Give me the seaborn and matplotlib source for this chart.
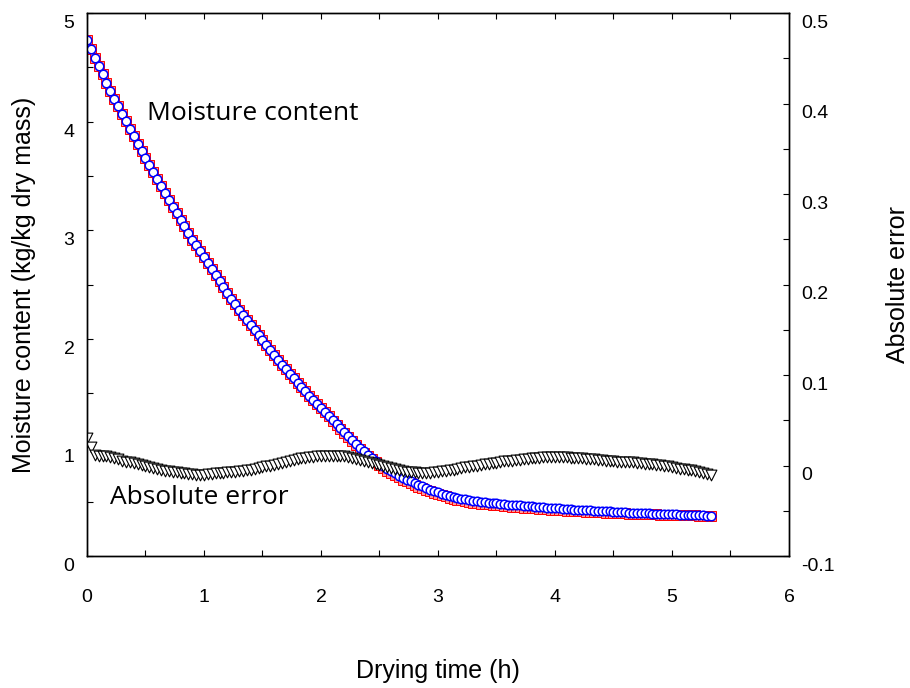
import numpy as np
import pandas as pd
import matplotlib
matplotlib.use('Agg')
import matplotlib.pyplot as plt
import matplotlib.transforms as mtransforms
from matplotlib.ticker import MultipleLocator
import seaborn as sns

# drying time in minutes (one reading every 2 min)
drying_time_min = [
    0, 2, 4, 6, 8, 10, 12, 14, 16, 18, 20, 22, 24, 26, 28, 30, 32, 34, 36, 38,
    40, 42, 44, 46, 48, 50, 52, 54, 56, 58, 60, 62, 64, 66, 68, 70, 72, 74, 76, 78,
    80, 82, 84, 86, 88, 90, 92, 94, 96, 98, 100, 102, 104, 106, 108, 110, 112, 114, 116, 118,
    120, 122, 124, 126, 128, 130, 132, 134, 136, 138, 140, 142, 144, 146, 148, 150, 152, 154, 156, 158,
    160, 162, 164, 166, 168, 170, 172, 174, 176, 178, 180, 182, 184, 186, 188, 190, 192, 194, 196, 198,
    200, 202, 204, 206, 208, 210, 212, 214, 216, 218, 220, 222, 224, 226, 228, 230, 232, 234, 236, 238,
    240, 242, 244, 246, 248, 250, 252, 254, 256, 258, 260, 262, 264, 266, 268, 270, 272, 274, 276, 278,
    280, 282, 284, 286, 288, 290, 292, 294, 296, 298, 300, 302, 304, 306, 308, 310, 312, 314, 316, 318,
    320,
]

# experimental moisture content (kg/kg dry mass), blue circles
moisture_exp = [
    4.75, 4.67, 4.59, 4.51, 4.435, 4.36, 4.285, 4.213, 4.142, 4.07,
    4.002, 3.933, 3.865, 3.798, 3.732, 3.665, 3.60, 3.535, 3.47, 3.407,
    3.343, 3.28, 3.218, 3.157, 3.095, 3.035, 2.975, 2.915, 2.862, 2.808,
    2.755, 2.698, 2.642, 2.585, 2.53, 2.475, 2.42, 2.37, 2.32, 2.27,
    2.222, 2.173, 2.125, 2.078, 2.032, 1.985, 1.94, 1.895, 1.85, 1.807,
    1.763, 1.72, 1.678, 1.637, 1.595, 1.555, 1.515, 1.475, 1.437, 1.398,
    1.36, 1.323, 1.287, 1.25, 1.213, 1.177, 1.14, 1.103, 1.067, 1.03,
    0.997, 0.963, 0.93, 0.903, 0.877, 0.85, 0.827, 0.803, 0.78, 0.76,
    0.74, 0.72, 0.703, 0.687, 0.67, 0.655, 0.64, 0.625, 0.612, 0.598,
    0.585, 0.574, 0.564, 0.553, 0.544, 0.536, 0.527, 0.521, 0.514, 0.508,
    0.504, 0.499, 0.495, 0.491, 0.488, 0.484, 0.481, 0.477, 0.474, 0.471,
    0.468, 0.465, 0.462, 0.46, 0.457, 0.454, 0.452, 0.449, 0.446, 0.443,
    0.44, 0.438, 0.435, 0.433, 0.431, 0.428, 0.426, 0.424, 0.422, 0.42,
    0.418, 0.416, 0.414, 0.412, 0.411, 0.409, 0.407, 0.404, 0.402, 0.40,
    0.399, 0.397, 0.395, 0.394, 0.392, 0.391, 0.389, 0.388, 0.387, 0.385,
    0.384, 0.383, 0.381, 0.38, 0.379, 0.377, 0.376, 0.375, 0.373, 0.372,
    0.371,
]

# predicted moisture content, red squares
moisture_model = [
    4.75, 4.67, 4.59, 4.51, 4.435, 4.36, 4.285, 4.213, 4.142, 4.07,
    4.002, 3.933, 3.865, 3.798, 3.732, 3.665, 3.60, 3.535, 3.47, 3.407,
    3.343, 3.28, 3.218, 3.157, 3.095, 3.035, 2.975, 2.915, 2.862, 2.808,
    2.755, 2.698, 2.642, 2.585, 2.53, 2.475, 2.42, 2.37, 2.32, 2.27,
    2.222, 2.173, 2.125, 2.078, 2.032, 1.985, 1.94, 1.895, 1.85, 1.807,
    1.763, 1.72, 1.678, 1.637, 1.595, 1.555, 1.515, 1.475, 1.437, 1.398,
    1.36, 1.323, 1.287, 1.247, 1.209, 1.172, 1.134, 1.096, 1.059, 1.021,
    0.987, 0.952, 0.918, 0.89, 0.863, 0.835, 0.811, 0.787, 0.764, 0.744,
    0.724, 0.704, 0.687, 0.671, 0.654, 0.639, 0.624, 0.609, 0.596, 0.582,
    0.569, 0.558, 0.548, 0.537, 0.528, 0.52, 0.511, 0.505, 0.498, 0.492,
    0.488, 0.483, 0.479, 0.475, 0.472, 0.468, 0.465, 0.461, 0.458, 0.455,
    0.452, 0.449, 0.446, 0.444, 0.441, 0.438, 0.436, 0.433, 0.43, 0.428,
    0.425, 0.423, 0.42, 0.418, 0.416, 0.414, 0.412, 0.41, 0.408, 0.406,
    0.405, 0.403, 0.401, 0.40, 0.399, 0.397, 0.396, 0.394, 0.392, 0.391,
    0.39, 0.388, 0.387, 0.386, 0.385, 0.384, 0.383, 0.382, 0.381, 0.38,
    0.379, 0.378, 0.377, 0.376, 0.375, 0.374, 0.373, 0.372, 0.371, 0.37,
    0.369,
]

# absolute error, black triangles (right axis)
abs_error = [
    0.030, 0.020, 0.012, 0.010, 0.010, 0.010, 0.009, 0.008, 0.007, 0.005,
    0.004, 0.0035, 0.003, 0.002, 0.001, -0.001, -0.002, -0.003, -0.004, -0.005,
    -0.006, -0.0065, -0.0068, -0.007, -0.008, -0.0085, -0.009, -0.0095, -0.010, -0.010,
    -0.010, -0.0098, -0.0092, -0.0088, -0.0082, -0.0078, -0.0075, -0.007, -0.0067, -0.0065,
    -0.006, -0.0055, -0.005, -0.004, -0.003, -0.002, -0.001, 0.0, 0.001, 0.002,
    0.003, 0.004, 0.005, 0.006, 0.007, 0.0078, 0.0085, 0.009, 0.0095, 0.010,
    0.0105, 0.011, 0.011, 0.011, 0.0108, 0.0105, 0.010, 0.009, 0.008, 0.007,
    0.006, 0.005, 0.004, 0.003, 0.0015, 0.0005, -0.001, -0.002, -0.003, -0.004,
    -0.005, -0.006, -0.0068, -0.0073, -0.0077, -0.008, -0.008, -0.008, -0.0078, -0.0075,
    -0.007, -0.0065, -0.006, -0.005, -0.0045, -0.004, -0.003, -0.0022, -0.0015, -0.0008,
    0.0, 0.0008, 0.0015, 0.002, 0.0027, 0.0033, 0.004, 0.0045, 0.005, 0.0055,
    0.006, 0.0065, 0.007, 0.0075, 0.008, 0.0083, 0.0086, 0.0089, 0.009, 0.009,
    0.009, 0.009, 0.009, 0.0089, 0.0088, 0.0086, 0.0084, 0.008, 0.0077, 0.0073,
    0.007, 0.0065, 0.006, 0.0055, 0.005, 0.0045, 0.004, 0.0035, 0.0035, 0.0035,
    0.0035, 0.003, 0.0025, 0.002, 0.0015, 0.0012, 0.001, 0.0005, 0.0, -0.0005,
    -0.0015, -0.0025, -0.0035, -0.004, -0.0048, -0.0055, -0.006, -0.007, -0.008, -0.009,
    -0.0105,
]

assert len(drying_time_min) == len(moisture_exp) == len(moisture_model) == len(abs_error)

df = pd.DataFrame({
    'time_h': [m / 60 for m in drying_time_min],
    'exp': moisture_exp,
    'model': moisture_model,
    'error': abs_error,
})

sns.set_style('ticks')
plt.rcParams['font.family'] = ['Liberation Sans', 'DejaVu Sans']
plt.rcParams['text.color'] = 'black'
plt.rcParams['xtick.color'] = 'black'
plt.rcParams['ytick.color'] = 'black'
plt.rcParams['axes.labelcolor'] = 'black'

fig = plt.figure(figsize=(9.1, 6.88), dpi=100)
ax = fig.add_axes([0.0956, 0.1919, 0.7714, 0.7890])
ax2 = ax.twinx()

# model (red squares joined by a red line), then experimental circles on top
sns.lineplot(data=df, x='time_h', y='model', ax=ax, color='red', linewidth=2.0,
             marker='s', markersize=7.0, markeredgecolor='red', markerfacecolor='#ff9a9a',
             markeredgewidth=0.7, sort=False, zorder=2)
sns.scatterplot(data=df, x='time_h', y='exp', ax=ax, marker='o', s=38,
                facecolor='white', edgecolor='blue', linewidth=1.1, zorder=3)

sns.scatterplot(data=df, x='time_h', y='error', ax=ax2, marker='v', s=60,
                facecolor='white', edgecolor='black', linewidth=0.8, zorder=1)

ax.set_xlim(0, 6)
ax.set_ylim(0, 5)
ax2.set_ylim(-0.1, 0.5)

ax.xaxis.set_major_locator(MultipleLocator(1))
ax.xaxis.set_minor_locator(MultipleLocator(0.5))
ax.yaxis.set_major_locator(MultipleLocator(1))
ax.yaxis.set_minor_locator(MultipleLocator(0.5))
ax2.yaxis.set_minor_locator(MultipleLocator(0.05))
ax2.set_yticks([-0.1, 0, 0.1, 0.2, 0.3, 0.4, 0.5])
ax2.set_yticklabels(['-0.1', '0', '0.1', '0.2', '0.3', '0.4', '0.5'])

ax.tick_params(axis='x', which='both', direction='in', top=True, length=4, width=0.8,
               labelsize=14, pad=24)
ax.tick_params(axis='y', which='both', direction='in', right=False, length=4, width=0.8,
               labelsize=14, pad=9)
ax2.tick_params(axis='y', which='both', direction='in', length=4, width=0.8,
                labelsize=14, pad=9)

# tick labels sit a little below their ticks, as in the original
shift = mtransforms.ScaledTranslation(0, -6 / 72, fig.dpi_scale_trans)
for lab in ax.get_yticklabels() + ax2.get_yticklabels():
    lab.set_transform(lab.get_transform() + shift)

for a in (ax, ax2):
    for sp in a.spines.values():
        sp.set_linewidth(1.0)
        sp.set_color('black')

ax.set_xlabel('Drying time (h)', fontsize=18, labelpad=38)
ax.set_ylabel('Moisture content (kg/kg dry mass)', fontsize=18, labelpad=20)
ax2.set_ylabel('Absolute error', fontsize=18, labelpad=37, rotation=90)

ax.text(0.51, 4.08, 'Moisture content', fontsize=19, va='center', ha='left',
        color='black', family=['Open Sans', 'DejaVu Sans'])
ax.text(0.20, 0.54, 'Absolute error', fontsize=19, va='center', ha='left',
        color='black', family=['Open Sans', 'DejaVu Sans'])

fig.savefig('out.png', dpi=100)
